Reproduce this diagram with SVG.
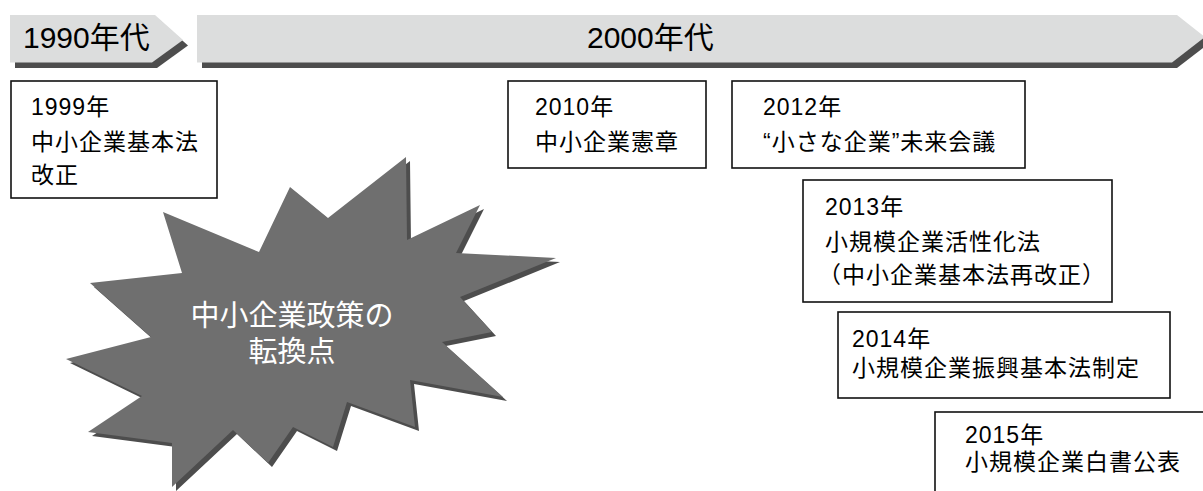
<svg xmlns="http://www.w3.org/2000/svg" width="1203" height="491" viewBox="0 0 1203 491">
<style>
  .band { fill: #dcdddd; }
  .shadow { fill: #4d4d4d; }
  .band-text { font-family: "Liberation Sans", "Noto Sans CJK JP", sans-serif; font-size: 30px; fill: #000; }
  .box { fill: #fff; stroke: #111; stroke-width: 1.6; }
  .box-text { font-family: "Liberation Sans", "Noto Sans CJK JP", sans-serif; font-size: 23px; letter-spacing: 1px; fill: #000; }
  .burst { fill: #6f6f6f; }
  .burst-text { font-family: "Liberation Sans", "Noto Sans CJK JP", sans-serif; font-size: 29px; fill: #fff; text-anchor: middle; }
</style>
<rect width="1203" height="491" fill="#fff"/>

<g id="band-1990s">
  <polygon class="shadow" points="15,20.5 160,20.5 188,45.5 157,68 15,68"/>
  <polygon class="band" points="10,15 155,15 183,40 152,62.5 10,62.5"/>
  <text class="band-text" x="23" y="48">1990年代</text>
</g>

<g id="band-2000s">
  <polygon class="shadow" points="202,20.5 1182,20.5 1210,42.5 1177,68 202,68"/>
  <polygon class="band" points="197,15 1177,15 1205,37 1172,62.5 197,62.5"/>
  <text class="band-text" x="587" y="48">2000年代</text>
</g>

<g id="burst">
  <polygon class="shadow" transform="translate(4,4)" points="406,157 407,240 480,205 456,253 556,258 460,297 492,332 442,342 503,397 410,380 415,427 347,402 333,447 293,427 268,463 233,430 172,487 172,443 88,432 142,396 66,359 151,337 90,283 182,273 163,212 259,252 290,187 328,218"/>
  <polygon class="burst" points="406,157 407,240 480,205 456,253 556,258 460,297 492,332 442,342 503,397 410,380 415,427 347,402 333,447 293,427 268,463 233,430 172,487 172,443 88,432 142,396 66,359 151,337 90,283 182,273 163,212 259,252 290,187 328,218"/>
  <text class="burst-text" x="292" y="326">中小企業政策の</text>
  <text class="burst-text" x="292" y="362">転換点</text>
</g>

<g id="node-1999">
  <rect class="box" x="11" y="81" width="206" height="117"/>
  <text class="box-text" x="31" y="115">1999年</text>
  <text class="box-text" x="31" y="150">中小企業基本法</text>
  <text class="box-text" x="31" y="183">改正</text>
</g>

<g id="node-2010">
  <rect class="box" x="508" y="81" width="198" height="87"/>
  <text class="box-text" x="535" y="115">2010年</text>
  <text class="box-text" x="535" y="150">中小企業憲章</text>
</g>

<g id="node-2012">
  <rect class="box" x="732" y="81" width="293" height="87"/>
  <text class="box-text" x="763" y="115">2012年</text>
  <text class="box-text" x="763" y="150">“小さな企業”未来会議</text>
</g>

<g id="node-2013">
  <rect class="box" x="803" y="180" width="309" height="122"/>
  <text class="box-text" x="825" y="215">2013年</text>
  <text class="box-text" x="825" y="250">小規模企業活性化法</text>
  <text class="box-text" x="818" y="283">（中小企業基本法再改正）</text>
</g>

<g id="node-2014">
  <rect class="box" x="838" y="312" width="332" height="86"/>
  <text class="box-text" x="852" y="347">2014年</text>
  <text class="box-text" x="852" y="376">小規模企業振興基本法制定</text>
</g>

<g id="node-2015">
  <rect class="box" x="935" y="412" width="300" height="100"/>
  <text class="box-text" x="965" y="443">2015年</text>
  <text class="box-text" x="965" y="470">小規模企業白書公表</text>
</g>

<g id="connectors"></g>
</svg>
